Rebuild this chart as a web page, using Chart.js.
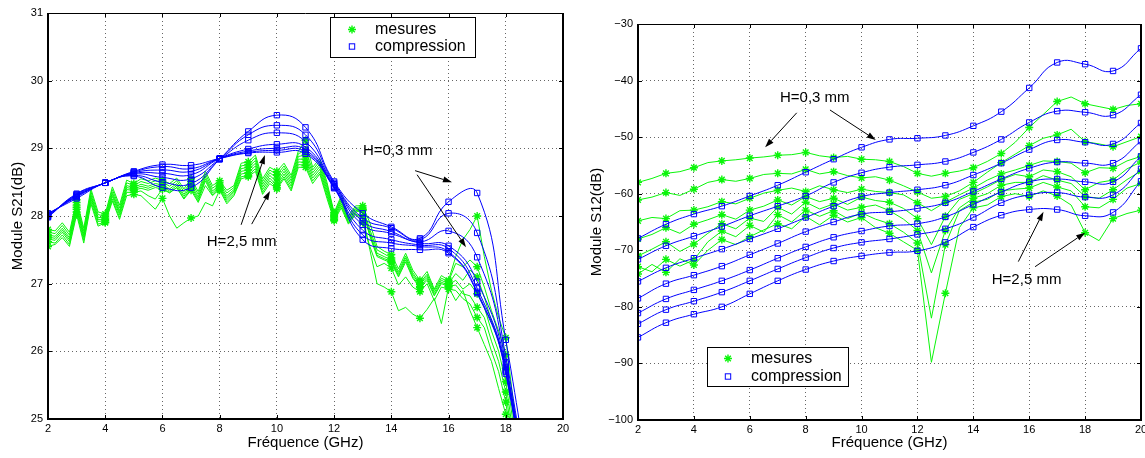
<!DOCTYPE html>
<html>
<head>
<meta charset="utf-8">
<script src="https://cdn.jsdelivr.net/npm/chart.js@4.4.1/dist/chart.umd.min.js"></script>
<style>
  html, body { margin: 0; padding: 0; background: #fff; overflow: hidden; }
  #wrap { position: relative; width: 1145px; height: 458px; overflow: hidden; }
  #s21 { position: absolute; left: 0; top: 0; }
  #s12 { position: absolute; left: 575px; top: 0; }
</style>
</head>
<body>
<div id="wrap">
  <canvas id="s21" width="575" height="458"></canvas>
  <canvas id="s12" width="590" height="458"></canvas>
</div>
<script>
// frequencies (GHz)
const freqInt = [2,3,4,5,6,7,8,9,10,11,12,13,14,15,16,17,18,19,20];
const freqS21 = [2,2.25,2.5,2.75,3,3.25,3.5,3.75,4,4.25,4.5,4.75,5,5.25,5.5,5.75,6,6.25,6.5,6.75,7,7.25,7.5,7.75,8,8.25,8.5,8.75,9,9.25,9.5,9.75,10,10.25,10.5,10.75,11,11.25,11.5,11.75,12,12.25,12.5,12.75,13,13.25,13.5,13.75,14,14.25,14.5,14.75,15,15.25,15.5,15.75,16,16.25,16.5,16.75,17,17.25,17.5,17.75,18,18.25,18.5];
const freqS12 = [2,2.5,3,3.5,4,4.5,5,5.5,6,6.5,7,7.5,8,8.5,9,9.5,10,10.5,11,11.5,12,12.5,13,13.5,14,14.5,15,15.5,16,16.5,17,17.5,18,18.5,19,19.5,20];

const freqTicks = [2,4,6,8,10,12,14,16,18,20];
const s21Ticks = [25,26,27,28,29,30,31];
const s12Ticks = [-100,-90,-80,-70,-60,-50,-40,-30];

// S21 "compression" (H=0,3 mm ... H=2,5 mm), at freqInt
const s21Comp = [
  [28.04,28.26,28.49,28.59,28.42,28.42,28.84,29.25,29.49,29.31,28.51,28.04,27.84,27.67,28.21,28.34,26.17,23.5],
  [28.03,28.28,28.49,28.60,28.50,28.48,28.84,29.20,29.34,29.20,28.49,27.97,27.82,27.65,28.04,27.75,25.92,23.2],
  [28.02,28.29,28.49,28.62,28.57,28.55,28.84,29.12,29.23,29.10,28.47,27.92,27.77,27.62,27.78,27.39,25.82,23.0],
  [28.01,28.30,28.49,28.63,28.63,28.61,28.85,28.99,29.06,29.02,28.45,27.87,27.74,27.60,27.56,27.03,25.77,22.9],
  [28.00,28.31,28.49,28.64,28.68,28.66,28.85,28.96,29.00,28.98,28.43,27.79,27.65,27.57,27.52,26.93,25.72,22.8],
  [27.99,28.32,28.49,28.65,28.73,28.70,28.85,28.94,28.97,28.95,28.42,27.72,27.60,27.55,27.47,26.88,25.70,22.7],
  [27.98,28.33,28.49,28.66,28.76,28.75,28.85,28.93,28.94,28.92,28.41,27.65,27.52,27.50,27.45,26.86,25.67,22.6]
];

// S21 "mesures", at freqS21
const s21Meas = [
  [27.80,27.78,27.90,27.76,28.24,27.82,28.40,28.06,28.03,28.43,28.16,28.53,28.48,28.55,28.52,28.56,28.53,28.48,28.56,28.40,28.55,28.36,28.66,28.45,28.52,28.38,28.45,28.78,28.80,28.90,28.55,28.72,28.66,28.78,28.60,28.96,29.12,28.72,28.85,28.50,28.05,28.30,28.00,28.15,28.15,27.90,27.55,27.48,27.43,27.22,27.45,27.20,27.05,27.18,26.92,27.12,27.05,27.40,27.65,27.80,28.00,27.40,26.90,26.50,26.20,25.30,24.40],
  [27.76,27.74,27.86,27.72,28.20,27.78,28.36,28.02,28.00,28.39,28.12,28.49,28.45,28.51,28.48,28.52,28.50,28.44,28.52,28.36,28.51,28.32,28.62,28.41,28.49,28.34,28.42,28.74,28.76,28.86,28.51,28.68,28.61,28.74,28.56,28.92,28.97,28.68,28.81,28.46,28.03,28.27,27.98,28.12,28.12,27.80,27.50,27.44,27.38,27.18,27.41,27.16,27.01,27.14,26.90,27.08,27.03,27.30,27.25,27.35,27.25,26.95,26.60,26.30,25.95,25.10,24.30],
  [27.72,27.70,27.82,27.68,28.16,27.74,28.32,27.98,27.97,28.35,28.08,28.45,28.42,28.47,28.44,28.48,28.46,28.40,28.48,28.32,28.47,28.28,28.58,28.37,28.46,28.30,28.39,28.70,28.72,28.82,28.47,28.64,28.56,28.70,28.52,28.88,28.90,28.64,28.77,28.42,28.01,28.24,27.96,28.10,28.10,27.75,27.45,27.40,27.35,27.15,27.38,27.13,26.99,27.11,26.87,27.05,27.00,27.15,27.05,27.20,27.10,26.80,26.45,26.15,25.75,24.95,24.20],
  [27.69,27.67,27.79,27.65,28.13,27.71,28.29,27.95,27.95,28.32,28.05,28.42,28.40,28.44,28.41,28.45,28.43,28.37,28.45,28.29,28.44,28.25,28.55,28.34,28.44,28.27,28.37,28.66,28.68,28.78,28.43,28.60,28.50,28.66,28.48,28.84,28.84,28.60,28.73,28.38,27.99,28.21,27.94,28.08,28.09,27.72,27.42,27.37,27.33,27.12,27.35,27.10,26.96,27.08,26.84,27.02,26.98,27.05,26.92,27.00,26.85,26.65,26.30,26.00,25.55,24.80,24.10],
  [27.66,27.64,27.76,27.62,28.10,27.68,28.26,27.92,27.93,28.29,28.02,28.39,28.38,28.41,28.38,28.42,28.40,28.34,28.42,28.26,28.41,28.22,28.52,28.31,28.42,28.24,28.35,28.62,28.64,28.74,28.39,28.56,28.45,28.62,28.44,28.80,28.79,28.56,28.69,28.34,27.97,28.18,27.92,28.06,28.08,27.70,27.40,27.35,27.31,27.10,27.32,27.08,26.94,27.05,26.82,27.00,26.96,26.98,26.85,26.82,26.65,26.50,26.15,25.85,25.40,24.65,24.00],
  [27.62,27.60,27.72,27.58,28.06,27.64,28.22,27.88,27.91,28.25,27.98,28.35,28.35,28.37,28.30,28.25,28.40,28.35,28.42,28.25,28.38,28.20,28.45,28.30,28.40,28.21,28.32,28.58,28.60,28.70,28.35,28.52,28.42,28.58,28.40,28.76,28.75,28.52,28.65,28.30,27.95,28.15,27.90,28.04,27.90,27.55,27.25,27.30,27.23,26.98,27.10,26.95,26.88,27.00,26.75,26.95,26.92,26.90,26.78,26.70,26.50,26.35,26.00,25.70,25.25,24.50,23.90],
  [27.55,27.58,27.68,27.55,28.02,27.60,28.18,27.85,27.90,28.22,27.95,28.30,28.32,28.30,28.20,28.10,28.26,28.00,27.82,27.90,27.97,28.00,28.20,28.15,28.38,28.18,28.30,28.55,28.58,28.66,28.32,28.48,28.40,28.55,28.37,28.72,28.72,28.48,28.62,28.26,27.93,28.12,27.88,28.02,28.00,27.50,27.00,26.95,26.88,26.60,26.65,26.55,26.49,26.62,26.78,26.41,26.95,26.75,26.90,26.60,26.35,26.10,25.85,25.45,25.07,24.40,23.80]
];

// S12 "compression", at freqInt
const s12Comp = [
  [-67.9,-65.4,-63.6,-62.2,-60.4,-58.5,-56.2,-53.9,-51.8,-50.4,-50.2,-49.7,-48.0,-45.5,-41.3,-36.8,-37.1,-38.3,-34.3],
  [-71.6,-69.2,-67.5,-65.8,-63.9,-62.2,-60.4,-58.0,-56.3,-55.3,-54.9,-54.3,-52.7,-50.4,-47.4,-45.4,-45.6,-46.1,-42.5],
  [-75.5,-73.1,-71.4,-69.8,-68.0,-66.2,-64.2,-62.2,-60.5,-59.8,-59.3,-58.5,-56.7,-54.6,-52.2,-50.5,-50.9,-51.2,-47.5],
  [-78.5,-75.9,-74.4,-72.8,-70.8,-68.8,-66.7,-65.0,-63.6,-63.2,-62.6,-61.6,-59.6,-57.4,-55.5,-54.4,-54.6,-54.6,-50.7],
  [-81.1,-78.6,-77.0,-75.4,-73.5,-71.4,-69.4,-67.7,-66.6,-65.7,-65.3,-64.1,-61.9,-59.7,-57.9,-57.4,-57.9,-57.9,-53.4],
  [-83.0,-80.5,-79.0,-77.4,-75.4,-73.3,-71.3,-69.6,-68.6,-68.0,-67.2,-66.2,-64.2,-61.6,-60.2,-59.8,-60.6,-60.2,-55.6],
  [-85.4,-82.8,-81.3,-80.0,-77.7,-75.4,-73.4,-71.9,-71.0,-70.4,-70.1,-68.6,-65.9,-63.8,-62.8,-62.8,-63.9,-63.3,-57.8]
];

// S12 "mesures", at freqS12
const s12Meas = [
  [-58.0,-57.3,-56.4,-56.1,-55.4,-54.5,-54.2,-54.0,-53.7,-53.5,-53.2,-53.1,-52.7,-53.3,-53.6,-53.4,-53.9,-54.0,-54.3,-55.2,-56.4,-56.9,-56.4,-56.0,-55.4,-54.3,-52.9,-50.9,-48.3,-46.0,-43.7,-42.9,-44.1,-44.6,-45.1,-44.4,-44.1],
  [-61.1,-60.6,-59.8,-60.3,-59.2,-58.0,-57.5,-57.8,-57.3,-56.6,-56.4,-56.5,-55.7,-56.5,-56.1,-56.8,-57.2,-57.0,-57.6,-58.6,-59.7,-60.8,-60.5,-59.5,-58.0,-56.2,-54.5,-53.0,-51.5,-50.2,-49.6,-48.6,-50.8,-51.2,-51.7,-50.8,-49.9],
  [-64.8,-64.2,-64.4,-63.0,-62.9,-62.3,-61.4,-61.8,-60.8,-59.9,-59.4,-59.0,-59.6,-58.6,-59.3,-59.8,-59.2,-59.6,-59.8,-60.2,-61.6,-63.0,-61.5,-60.2,-59.0,-57.6,-56.5,-55.8,-55.0,-54.2,-54.3,-54.6,-56.3,-55.4,-55.5,-54.2,-53.4],
  [-68.0,-67.2,-66.0,-67.0,-65.4,-64.6,-63.7,-64.5,-62.9,-62.2,-61.1,-62.0,-60.5,-61.4,-60.8,-61.9,-60.6,-61.2,-61.5,-62.6,-64.4,-69.0,-64.0,-61.0,-60.0,-58.8,-57.5,-56.6,-57.0,-55.8,-56.1,-57.0,-59.3,-58.0,-57.6,-55.6,-54.4],
  [-71.0,-69.8,-68.5,-70.2,-68.9,-67.0,-65.3,-66.2,-64.3,-64.9,-62.4,-63.6,-61.5,-62.7,-61.8,-62.9,-62.4,-62.0,-63.0,-64.5,-66.5,-74.0,-66.5,-62.5,-60.8,-60.0,-58.5,-58.0,-58.0,-56.8,-57.6,-58.2,-60.5,-60.8,-59.3,-57.5,-56.0],
  [-72.9,-73.8,-71.6,-72.8,-71.7,-68.5,-66.6,-67.6,-65.6,-66.8,-63.7,-65.0,-62.9,-64.0,-63.0,-64.4,-63.4,-64.5,-65.3,-66.8,-68.7,-82.0,-69.0,-63.0,-61.5,-61.0,-59.5,-59.2,-59.0,-58.0,-58.8,-59.5,-62.3,-62.5,-61.0,-59.0,-58.2],
  [-74.2,-72.5,-73.9,-71.5,-72.6,-70.0,-68.1,-69.0,-67.6,-66.4,-65.3,-66.2,-64.0,-65.5,-63.8,-65.0,-64.2,-66.0,-67.0,-68.5,-70.0,-89.8,-77.6,-66.0,-62.5,-62.0,-60.5,-60.0,-60.5,-59.5,-60.4,-62.0,-66.9,-68.3,-64.4,-63.5,-62.9]
];

const BLUE = 'rgb(0,0,255)';
const GREEN = 'rgb(10,245,10)';
const FONT = '"Liberation Sans", Arial, Helvetica, sans-serif';
Chart.defaults.font.family = FONT;
Chart.defaults.color = '#000';

function compSet(vals, freq) {
  return {
    label: 'compression',
    data: vals.map((v, i) => ({ x: freq[i], y: v })),
    borderColor: BLUE, borderWidth: 1, tension: 0.48,
    pointStyle: 'rect', pointRadius: 3.8, pointBorderWidth: 1,
    pointBorderColor: BLUE, pointBackgroundColor: 'rgba(0,0,0,0)'
  };
}
function measSet(vals, freq) {
  return {
    label: 'mesures',
    data: vals.map((v, i) => ({ x: freq[i], y: v })),
    borderColor: GREEN, borderWidth: 1, tension: 0,
    pointStyle: 'star', pointBorderWidth: 1.4,
    pointRadius: freq.map(f => Number.isInteger(f) ? 4 : 0),
    pointBorderColor: GREEN, pointBackgroundColor: GREEN
  };
}

function arrow(ctx, x0, y0, x1, y1) {
  const a = Math.atan2(y1 - y0, x1 - x0), L = 9, W = 3;
  const c = Math.cos(a), s = Math.sin(a);
  ctx.beginPath();
  ctx.moveTo(x0, y0);
  ctx.lineTo(x1 - L * c, y1 - L * s);
  ctx.stroke();
  ctx.beginPath();
  ctx.moveTo(x1, y1);
  ctx.lineTo(x1 - L * c + W * s, y1 - L * s - W * c);
  ctx.lineTo(x1 - L * c - W * s, y1 - L * s + W * c);
  ctx.closePath();
  ctx.fill();
}

// box, inward ticks, notes (data units) and legend (pixels)
function makeFrame(notes, legend) {
  return {
    id: 'frame',
    afterDatasetsDraw(chart) {
      const { ctx, chartArea: a, scales: { x, y } } = chart;
      ctx.save();
      ctx.strokeStyle = '#000';
      ctx.fillStyle = '#000';
      ctx.lineWidth = 1;
      ctx.beginPath();
      x.ticks.forEach(t => {
        const p = Math.round(x.getPixelForValue(t.value)) + 0.5;
        ctx.moveTo(p, a.bottom); ctx.lineTo(p, a.bottom - 4);
        ctx.moveTo(p, a.top); ctx.lineTo(p, a.top + 4);
      });
      y.ticks.forEach(t => {
        const p = Math.round(y.getPixelForValue(t.value)) + 0.5;
        ctx.moveTo(a.left, p); ctx.lineTo(a.left + 4, p);
        ctx.moveTo(a.right, p); ctx.lineTo(a.right - 4, p);
      });
      ctx.stroke();
      ctx.beginPath();
      ctx.moveTo(a.left, a.top + 0.5); ctx.lineTo(a.right, a.top + 0.5);
      ctx.stroke();
      ctx.lineWidth = 2;
      ctx.beginPath();
      ctx.moveTo(a.left, a.top); ctx.lineTo(a.left, a.bottom); ctx.lineTo(a.right, a.bottom); ctx.lineTo(a.right, a.top);
      ctx.stroke();

      ctx.lineWidth = 1;
      ctx.font = '15px ' + FONT;
      ctx.textBaseline = 'middle';
      ctx.textAlign = 'left';
      notes.forEach(n => {
        ctx.fillText(n.text, x.getPixelForValue(n.x), y.getPixelForValue(n.y));
        n.arrows.forEach(ar => arrow(ctx,
          x.getPixelForValue(ar[0]), y.getPixelForValue(ar[1]),
          x.getPixelForValue(ar[2]), y.getPixelForValue(ar[3])));
      });

      const b = legend.box;
      ctx.fillStyle = '#fff';
      ctx.fillRect(b[0], b[1], b[2], b[3]);
      ctx.strokeStyle = '#000';
      ctx.strokeRect(b[0] + 0.5, b[1] + 0.5, b[2], b[3]);
      ctx.font = '16px ' + FONT;
      legend.rows.forEach(r => {
        const mx = legend.markX, my = r.y;
        if (r.kind === 'star') {
          ctx.strokeStyle = GREEN;
          ctx.lineWidth = 1.4;
          ctx.beginPath();
          for (let k = 0; k < 4; k++) {
            const ang = k * Math.PI / 4, dx = 4 * Math.cos(ang), dy = 4 * Math.sin(ang);
            ctx.moveTo(mx - dx, my - dy); ctx.lineTo(mx + dx, my + dy);
          }
          ctx.stroke();
        } else {
          ctx.strokeStyle = BLUE;
          ctx.lineWidth = 1;
          ctx.strokeRect(mx - 2.7, my - 2.7, 5.4, 5.4);
        }
        ctx.fillStyle = '#000';
        ctx.fillText(r.label, legend.textX, my);
      });
      ctx.restore();
    }
  };
}

function axes(yMin, yMax, yTitle, yWidth, yTitlePad, xHeight, yTicks) {
  const grid = { color: 'rgba(0,0,0,0.6)', lineWidth: 1, drawTicks: false };
  return {
    x: {
      type: 'linear', min: 2, max: 20,
      afterBuildTicks: s => { s.ticks = freqTicks.map(v => ({ value: v })); },
      afterFit: s => { s.height = xHeight; },
      ticks: { font: { size: 11 }, padding: 3, color: '#000', maxRotation: 0 },
      grid: grid,
      border: { display: false, dash: [1, 3] },
      title: { display: true, text: 'Fréquence (GHz)', font: { size: 15 }, color: '#000', padding: { top: 0, bottom: 6 } }
    },
    y: {
      min: yMin, max: yMax,
      afterBuildTicks: s => { s.ticks = yTicks.map(v => ({ value: v })); },
      afterFit: s => { s.width = yWidth; },
      ticks: {
        font: { size: 11 }, padding: 5, color: '#000',
        callback: v => String(v).replace('-', '\u2212')
      },
      grid: grid,
      border: { display: false, dash: [1, 3] },
      title: { display: true, text: yTitle, font: { size: 15 }, color: '#000', padding: { top: yTitlePad, bottom: 0 } }
    }
  };
}

new Chart(document.getElementById('s21'), {
  type: 'line',
  data: {
    datasets: s21Comp.map(v => compSet(v, freqInt)).concat(s21Meas.map(v => measSet(v, freqS21)))
  },
  options: {
    responsive: false, animation: false, devicePixelRatio: 1,
    layout: { padding: { left: 0, top: 13, right: 12, bottom: 0 } },
    plugins: { legend: { display: false }, tooltip: { enabled: false } },
    scales: axes(25, 31, 'Module S21(dB)', 48, 8.5, 39, s21Ticks)
  },
  plugins: [makeFrame(
    [
      { text: 'H=0,3 mm', x: 13.01, y: 28.96, arrows: [[14.83, 28.67, 16.12, 28.50], [14.9, 28.61, 16.61, 27.54]] },
      { text: 'H=2,5 mm', x: 7.55, y: 27.62, arrows: [[8.75, 27.87, 9.58, 28.90], [9.12, 27.88, 9.76, 28.37]] }
    ],
    { box: [330, 17, 145, 40], markX: 352, textX: 375,
      rows: [{ kind: 'star', label: 'mesures', y: 29.5 }, { kind: 'rect', label: 'compression', y: 46.5 }] }
  )]
});

new Chart(document.getElementById('s12'), {
  type: 'line',
  data: {
    datasets: s12Comp.map(v => compSet(v, freqInt)).concat(s12Meas.map(v => measSet(v, freqS12)))
  },
  options: {
    responsive: false, animation: false, devicePixelRatio: 1,
    layout: { padding: { left: 0, top: 24, right: 24, bottom: 0 } },
    plugins: { legend: { display: false }, tooltip: { enabled: false } },
    scales: axes(-100, -30, 'Module S12(dB)', 63, 13, 38, s12Ticks)
  },
  plugins: [makeFrame(
    [
      { text: 'H=0,3 mm', x: 7.08, y: -43.1, arrows: [[7.68, -45.7, 6.55, -51.8], [8.87, -45.2, 10.51, -50.5]] },
      { text: 'H=2,5 mm', x: 14.66, y: -75.25, arrows: [[15.61, -72.0, 16.51, -63.2], [16.21, -72.9, 18.0, -66.9]] }
    ],
    { box: [132, 347, 141, 39], markX: 153, textX: 176,
      rows: [{ kind: 'star', label: 'mesures', y: 358.5 }, { kind: 'rect', label: 'compression', y: 376.5 }] }
  )]
});
</script>
</body>
</html>
